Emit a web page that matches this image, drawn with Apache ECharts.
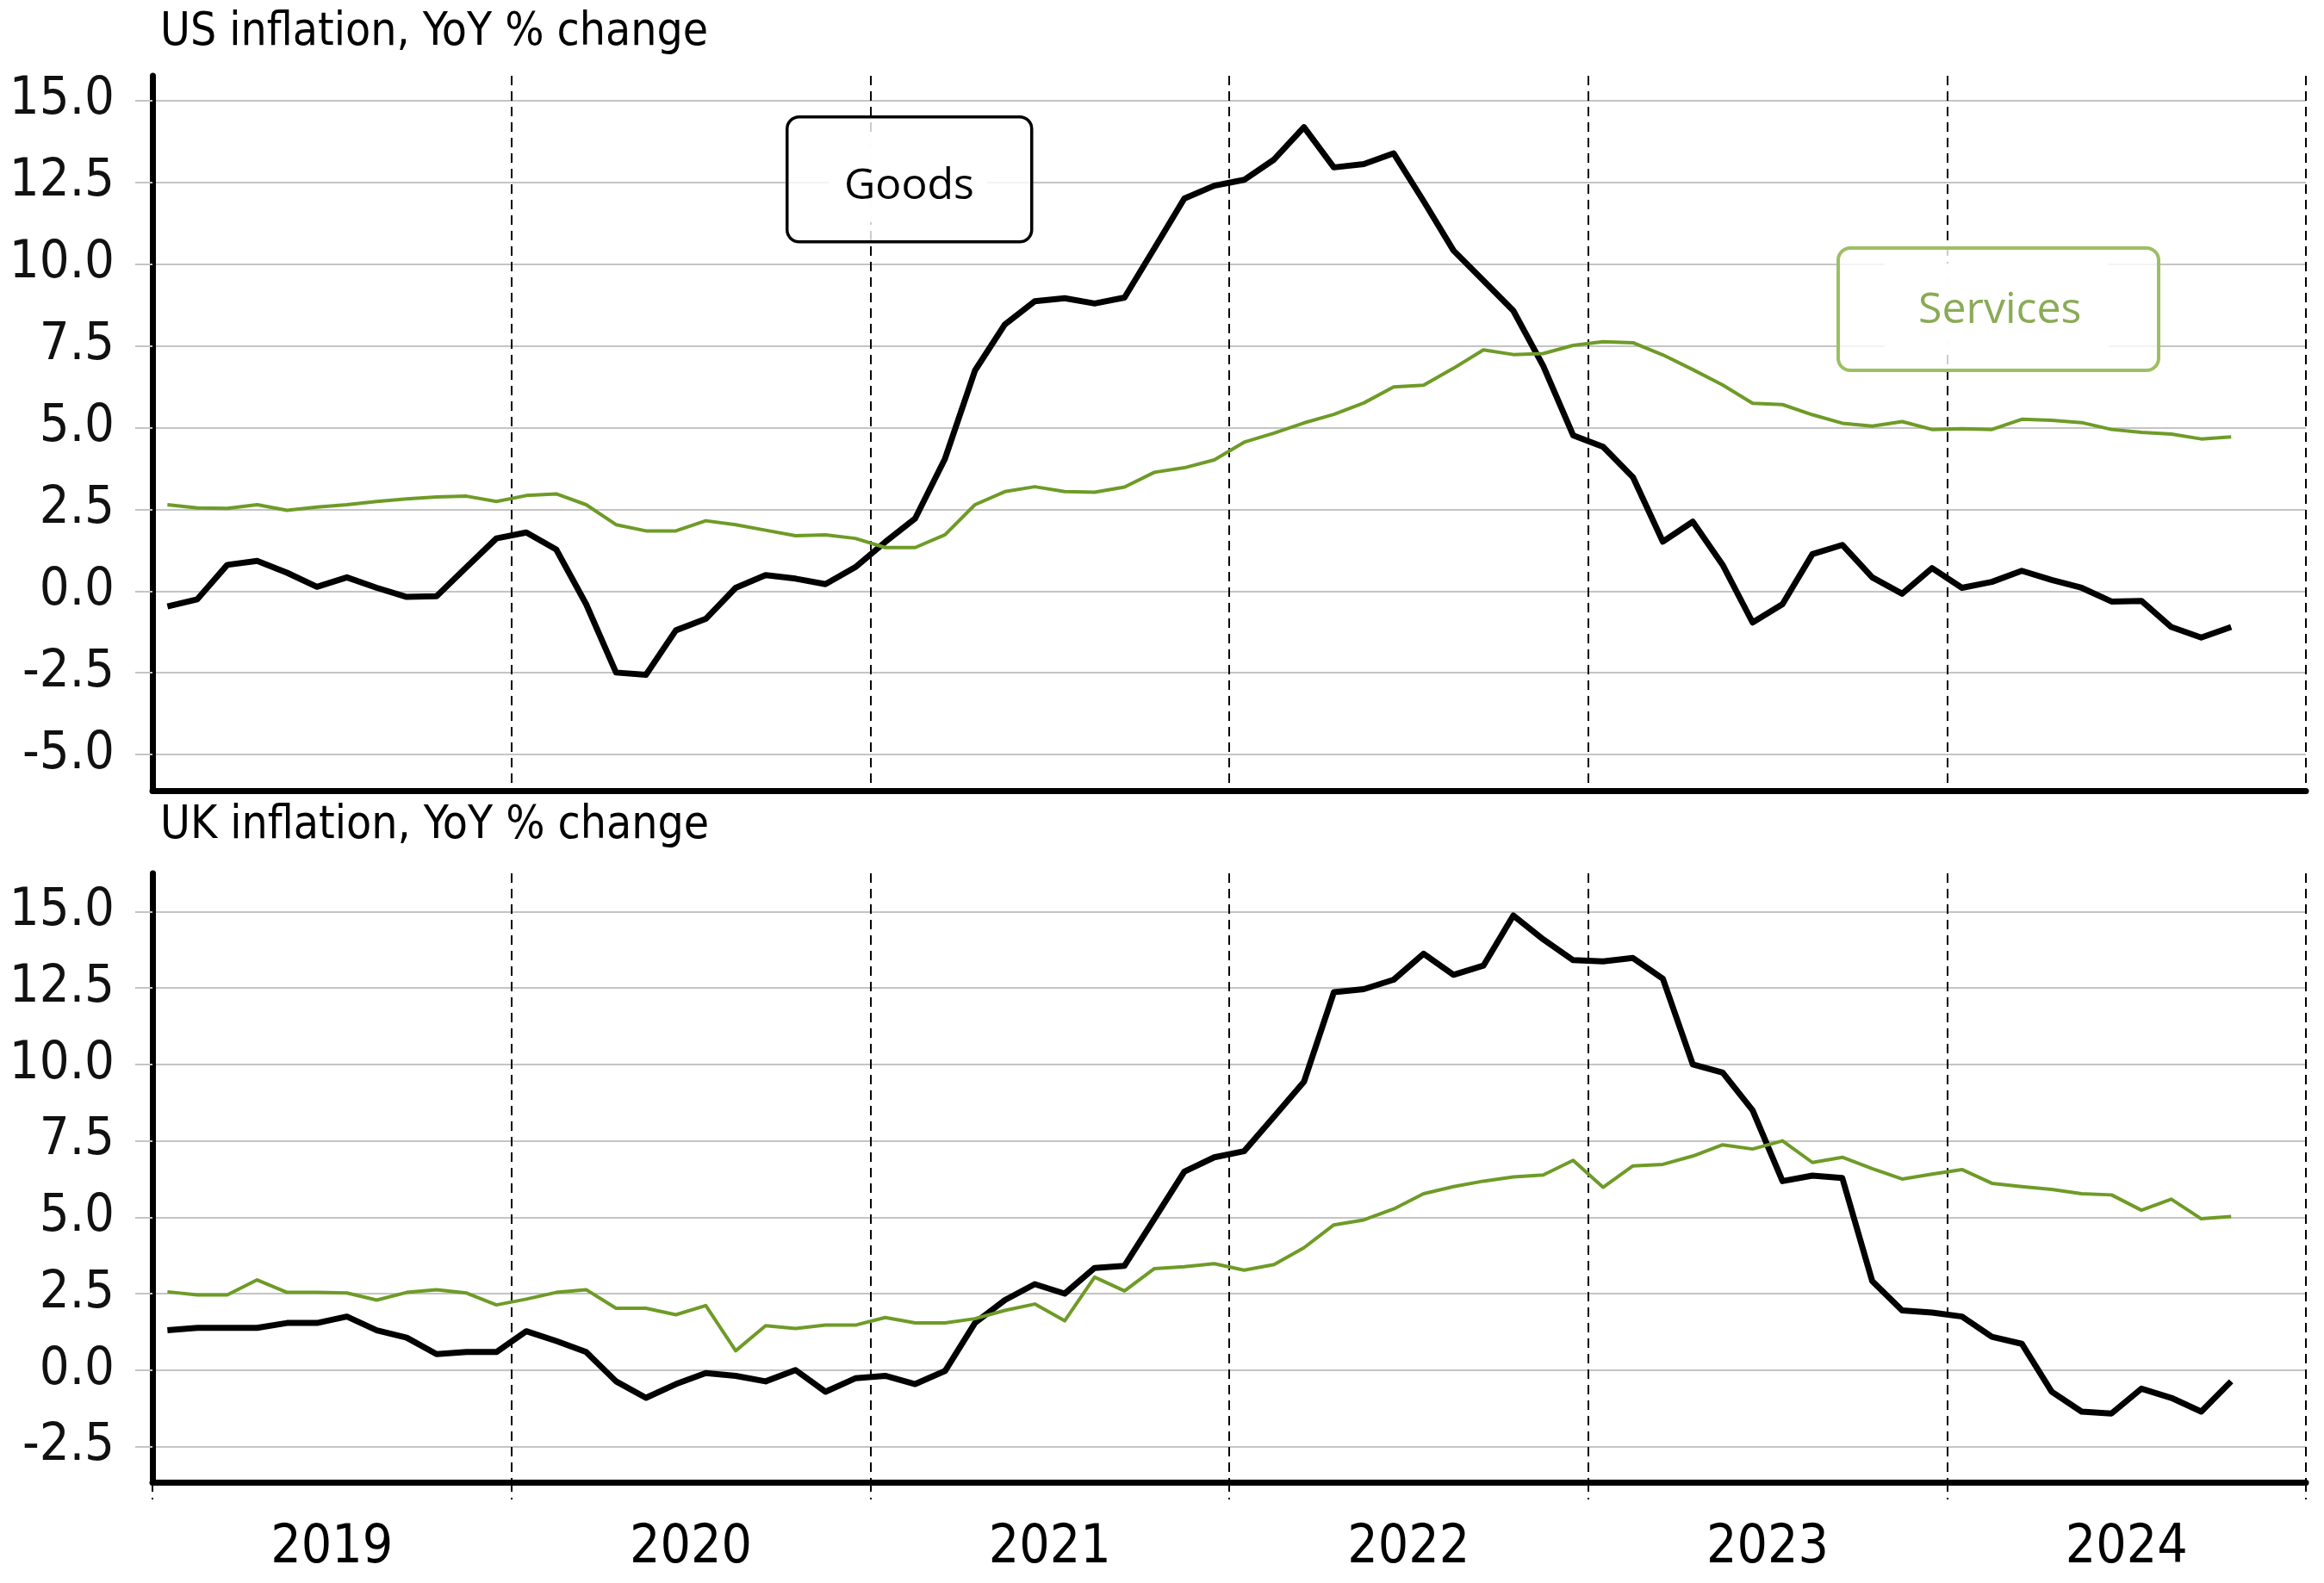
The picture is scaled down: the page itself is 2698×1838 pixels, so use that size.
<!DOCTYPE html>
<html>
<head>
<meta charset="utf-8">
<script src="https://cdn.jsdelivr.net/npm/echarts@6/dist/echarts.min.js"></script>
<style>
html,body{margin:0;padding:0;background:#fff;}
#chart{width:2698px;height:1838px;}
</style>
</head>
<body>
<div id="chart"></div>
<script>
// Monthly data, Jan 2019 .. Oct 2024
var months = [];
for (var y = 2019; y <= 2024; y++) { for (var m = 1; m <= 12; m++) { if (months.length < 70) months.push(y + '-' + (m < 10 ? '0' + m : m)); } }

var usGoods = [-0.47,-0.25,0.8,0.92,0.56,0.13,0.42,0.1,-0.18,-0.16,0.73,1.61,
  1.79,1.27,-0.4,-2.49,-2.56,-1.2,-0.85,0.1,0.49,0.38,0.21,0.73,
  1.5,2.22,4.05,6.74,8.15,8.86,8.95,8.79,8.97,10.48,12.0,12.39,
  12.57,13.19,14.18,12.95,13.05,13.38,11.92,10.41,9.49,8.57,6.88,4.76,
  4.41,3.48,1.51,2.12,0.8,-0.96,-0.4,1.13,1.41,0.42,-0.08,0.7,
  0.1,0.28,0.62,0.34,0.1,-0.32,-0.3,-1.1,-1.42,-1.1];
var usServices = [2.64,2.54,2.53,2.64,2.47,2.57,2.64,2.74,2.82,2.88,2.9,2.74,
  2.92,2.97,2.64,2.03,1.84,1.84,2.15,2.03,1.86,1.69,1.72,1.61,
  1.33,1.33,1.72,2.64,3.04,3.19,3.04,3.02,3.18,3.63,3.77,4.01,
  4.55,4.83,5.14,5.4,5.75,6.24,6.29,6.81,7.37,7.23,7.26,7.51,
  7.62,7.59,7.22,6.77,6.3,5.74,5.7,5.39,5.13,5.04,5.18,4.94,
  4.96,4.94,5.25,5.22,5.15,4.94,4.85,4.8,4.65,4.71];
var ukGoods = [1.3,1.38,1.38,1.38,1.54,1.54,1.75,1.3,1.06,0.52,0.59,0.59,
  1.27,0.95,0.59,-0.37,-0.91,-0.46,-0.1,-0.19,-0.37,0.0,-0.71,-0.27,
  -0.19,-0.46,-0.03,1.54,2.29,2.81,2.5,3.34,3.41,4.95,6.49,6.96,
  7.16,8.29,9.43,12.36,12.46,12.77,13.62,12.93,13.23,14.87,14.09,13.41,
  13.37,13.48,12.8,10.0,9.73,8.5,6.18,6.36,6.28,2.91,1.95,1.88,
  1.75,1.09,0.86,-0.71,-1.36,-1.42,-0.61,-0.91,-1.36,-0.37];
var ukServices = [2.56,2.46,2.46,2.95,2.54,2.54,2.52,2.29,2.54,2.63,2.52,2.13,
  2.32,2.54,2.63,2.02,2.02,1.81,2.11,0.63,1.45,1.36,1.47,1.47,
  1.72,1.54,1.54,1.68,1.95,2.16,1.61,3.04,2.59,3.32,3.38,3.48,
  3.27,3.45,4.0,4.75,4.91,5.27,5.77,6.0,6.18,6.32,6.38,6.86,
  5.98,6.68,6.73,7.0,7.37,7.23,7.5,6.79,6.96,6.59,6.25,6.41,
  6.56,6.11,6.0,5.91,5.77,5.73,5.23,5.59,4.95,5.02];

var yearLabels = ['2019','2020','2021','2022','2023','2024'];
var usYTicks = [-5,-2.5,0,2.5,5,7.5,10,12.5,15];
var ukYTicks = [-2.5,0,2.5,5,7.5,10,12.5,15];
var titles = ['US inflation, YoY % change', 'UK inflation, YoY % change'];

// helpers: x position = months since Jan 2019, plotted mid-month
function monthPos(label) {
  var p = label.split('-');
  return (parseInt(p[0], 10) - 2019) * 12 + (parseInt(p[1], 10) - 1) + 0.5;
}
function pairs(arr) { return arr.map(function (v, i) { return [monthPos(months[i]), v]; }); }

var FONT = "'DejaVu Sans Condensed', 'DejaVu Sans', sans-serif";
var ANNO_FONT = "'Open Sans', 'Noto Sans', sans-serif";
var GRID_COLOR = '#c4c4c4';
var GREEN = '#6e9b27';

function xAxisCfg(gridIndex, showLabels) {
  return {
    type: 'value', gridIndex: gridIndex, min: 0, max: 72, interval: 12,
    axisLine: { show: true, onZero: false, lineStyle: { color: '#000', width: 7 } },
    axisTick: { show: showLabels, length: 20, lineStyle: { color: '#000', width: 2, type: [11, 7] } },
    axisLabel: {
      show: showLabels,
      customValues: yearLabels.map(function (y, i) { return i * 12 + 6; }),
      formatter: function (v) { return yearLabels[Math.round((v - 6) / 12)]; },
      fontSize: 62, fontFamily: FONT, color: '#000', margin: 46
    },
    splitLine: { show: true, lineStyle: { color: '#000', width: 2, type: [11, 7] } }
  };
}
function yAxisCfg(gridIndex, min, max, ticks) {
  return {
    type: 'value', gridIndex: gridIndex, min: min, max: max,
    axisLine: { show: true, onZero: false, lineStyle: { color: '#000', width: 7 } },
    axisTick: { show: true, customValues: ticks, length: 20, lineStyle: { color: GRID_COLOR, width: 2 } },
    axisLabel: {
      customValues: ticks,
      formatter: function (v) { return v.toFixed(1); },
      fontSize: 61, fontFamily: FONT, color: '#111', margin: 44
    },
    splitLine: { show: true, lineStyle: { color: GRID_COLOR, width: 2 } }
  };
}
function lineSeries(name, data, xi, color, width, z) {
  return {
    name: name, type: 'line', xAxisIndex: xi, yAxisIndex: xi, data: pairs(data),
    showSymbol: false, symbol: 'none', silent: true, z: z,
    lineStyle: { color: color, width: width, join: 'round' }
  };
}

var chart = echarts.init(document.getElementById('chart'), null, { renderer: 'canvas' });
chart.setOption({
  animation: false,
  backgroundColor: '#fff',
  title: [
    { text: titles[0], left: 186, top: 12, padding: 0, textStyle: { fontSize: 53, fontWeight: 'normal', fontFamily: FONT, color: '#000' } },
    { text: titles[1], left: 186, top: 933, padding: 0, textStyle: { fontSize: 53, fontWeight: 'normal', fontFamily: FONT, color: '#000' } }
  ],
  grid: [
    { left: 177, width: 2500, top: 88, height: 830 },
    { left: 177, width: 2500, top: 1014, height: 707 }
  ],
  xAxis: [xAxisCfg(0, false), xAxisCfg(1, true)],
  yAxis: [yAxisCfg(0, -6.1, 15.75, usYTicks), yAxisCfg(1, -3.67, 16.25, ukYTicks)],
  series: [
    lineSeries('US Goods', usGoods, 0, '#000', 7, 3),
    lineSeries('US Services', usServices, 0, GREEN, 4, 4),
    lineSeries('UK Goods', ukGoods, 1, '#000', 7, 3),
    lineSeries('UK Services', ukServices, 1, GREEN, 4, 4)
  ],
  graphic: [
    { type: 'rect', left: 912, top: 134, z: 100, shape: { width: 284, height: 145, r: 14 }, style: { fill: 'rgba(255,255,255,0.8)', stroke: '#000', lineWidth: 3.5 } },
    { type: 'rect', left: 962, top: 156, z: 101, shape: { width: 184, height: 102 }, style: { fill: 'rgba(255,255,255,0.93)' } },
    { type: 'text', z: 102, left: 980, top: 192, style: { text: 'Goods', fill: '#000', font: '50px ' + ANNO_FONT } },
    { type: 'rect', left: 2132, top: 286, z: 100, shape: { width: 372, height: 142, r: 14 }, style: { fill: 'rgba(255,255,255,0.8)', stroke: '#9dbf62', lineWidth: 4 } },
    { type: 'rect', left: 2188, top: 306, z: 101, shape: { width: 260, height: 102 }, style: { fill: 'rgba(255,255,255,0.93)' } },
    { type: 'text', z: 102, left: 2227, top: 336, style: { text: 'Services', fill: '#8aab55', font: '50px ' + ANNO_FONT } }
  ]
});
</script>
</body>
</html>
